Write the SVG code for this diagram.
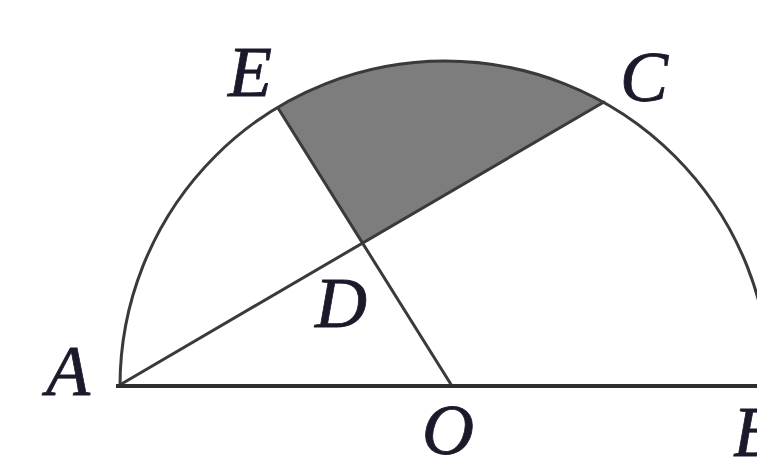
<svg xmlns="http://www.w3.org/2000/svg" width="757" height="461" viewBox="0 0 757 461">
<style>
.ln{fill:none;stroke:#3a3a3a;stroke-width:3;stroke-linecap:round;stroke-linejoin:round}
.base{fill:none;stroke:#2e2e2e;stroke-width:4}
.lbl{font-family:"Liberation Serif","Times New Roman",serif;font-style:italic;font-size:72px;fill:#1a1a2a;stroke:#1a1a2a;stroke-width:0.8}
</style>
<rect width="757" height="461" fill="#ffffff"/>
<g id="shaded">
<path d="M278 108 L363 243 L604 102 A325 325 0 0 0 278 108 Z" fill="#7d7d7d" stroke="none"/>
</g>
<g id="connectors">
<path class="ln" d="M120 386 A325 325 0 0 1 770 386"/>
<path class="ln" d="M118 386 L604 102"/>
<path class="ln" d="M452 386 L278 108"/>
<path class="base" d="M116 386 L757 386"/>
</g>
<g id="A"><text class="lbl" x="46" y="395">A</text></g>
<g id="O"><text class="lbl" x="422" y="454">O</text></g>
<g id="B"><text class="lbl" x="733" y="456">B</text></g>
<g id="D"><text class="lbl" x="315" y="327">D</text></g>
<g id="E"><text class="lbl" x="228" y="96">E</text></g>
<g id="C"><text class="lbl" x="620" y="101">C</text></g>
</svg>
